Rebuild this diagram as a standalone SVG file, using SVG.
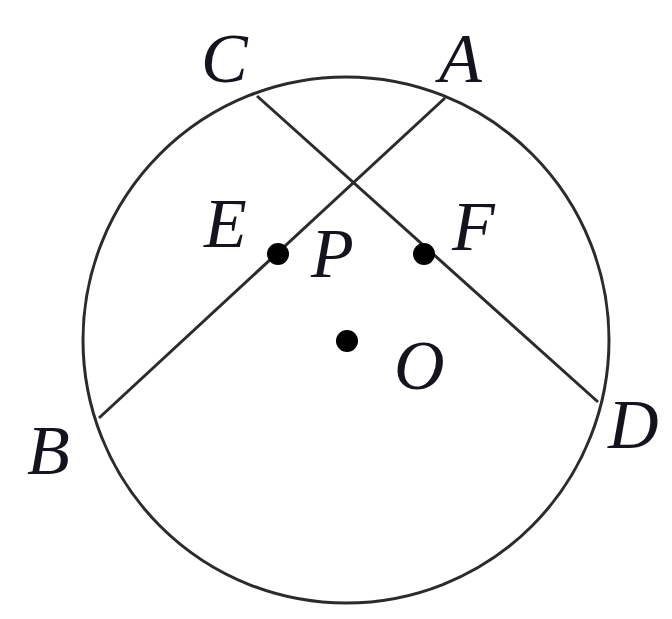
<svg xmlns="http://www.w3.org/2000/svg" width="672" height="619" viewBox="0 0 672 619">
<style>
.ln{fill:none;stroke:#2b2b2b;stroke-width:3}
.dot{fill:#000}
.lb{font-family:"Liberation Serif","Times New Roman","DejaVu Serif",serif;font-style:italic;font-size:70px;fill:#14141e}
</style>
<rect width="672" height="619" fill="#fff"/>
<circle class="ln" cx="346" cy="340" r="263"/>
<g id="chords">
<line class="ln" x1="445" y1="98" x2="99" y2="418"/>
<line class="ln" x1="257" y1="96" x2="598" y2="402"/>
</g>
<g id="points">
<circle class="dot" cx="278" cy="254" r="11"/>
<circle class="dot" cx="424" cy="254" r="11"/>
<circle class="dot" cx="347" cy="341" r="11"/>
</g>
<g id="labels">
<text class="lb" x="201" y="82">C</text>
<text class="lb" x="439" y="82">A</text>
<text class="lb" x="204" y="247">E</text>
<text class="lb" x="311" y="277">P</text>
<text class="lb" x="452" y="250">F</text>
<text class="lb" x="394" y="389">O</text>
<text class="lb" x="27" y="474">B</text>
<text class="lb" x="608" y="448">D</text>
</g>
</svg>
